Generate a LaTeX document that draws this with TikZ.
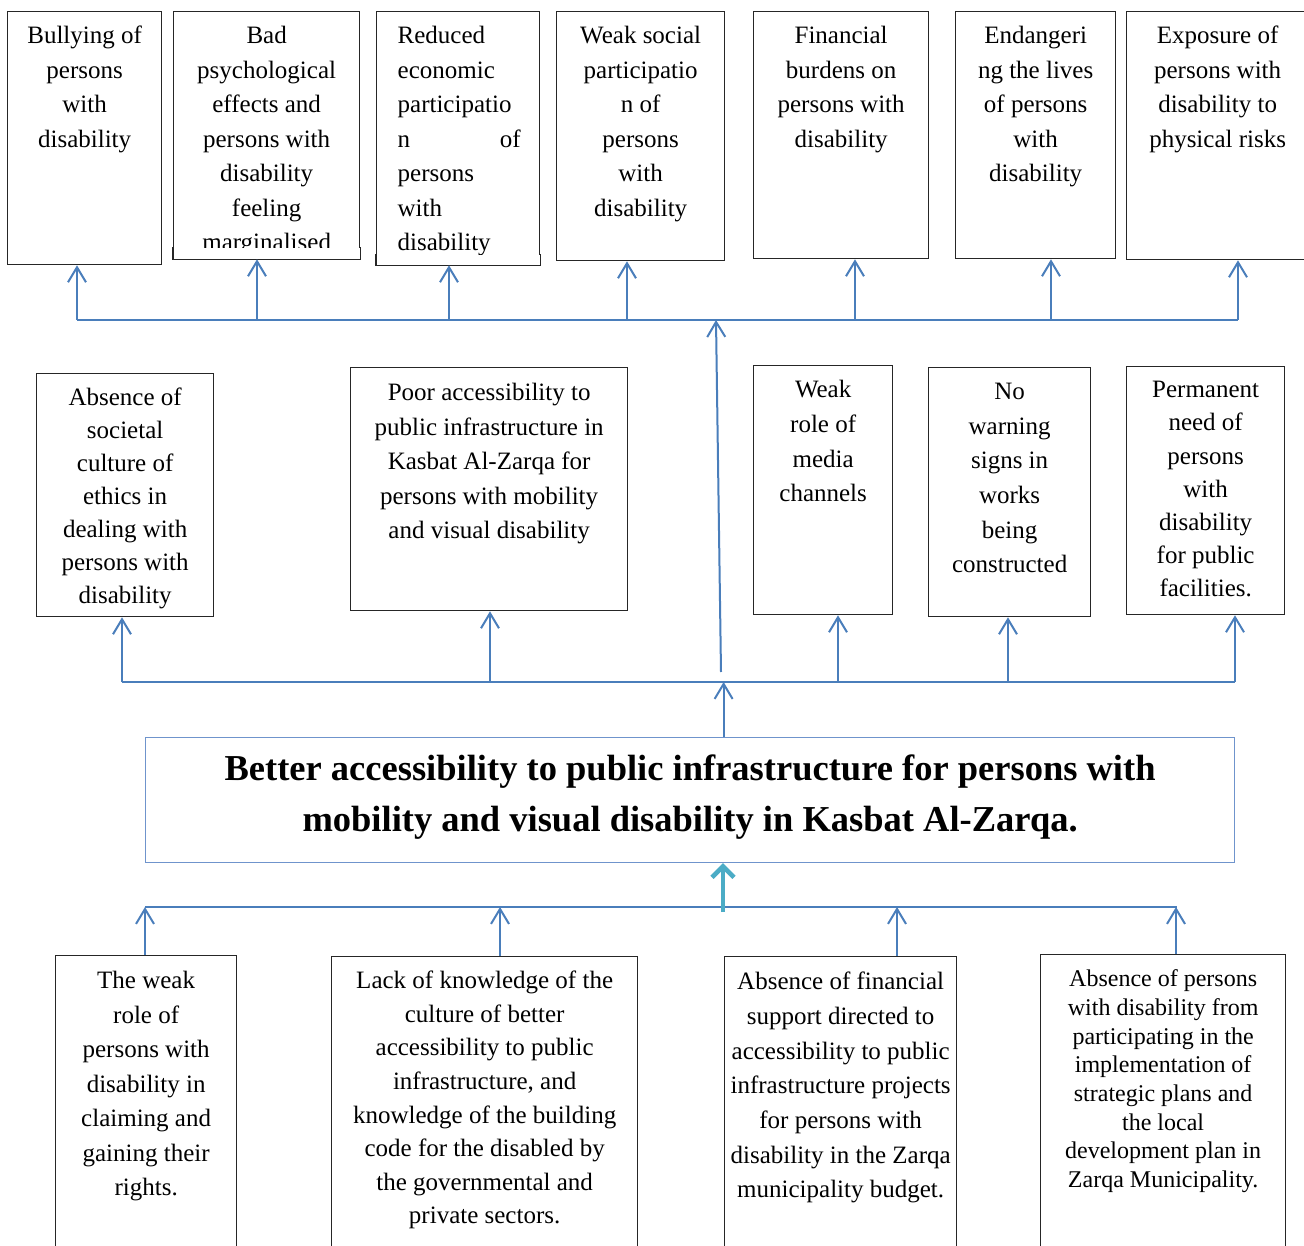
\documentclass[tikz,border=0pt]{standalone}
\usepackage{fontspec}
\setmainfont{Liberation Serif}
\usetikzlibrary{arrows.meta}
\definecolor{connc}{HTML}{4A7EBB}
\definecolor{tealc}{HTML}{4BACC6}
\definecolor{mainc}{HTML}{6F94CC}
\newcommand\bxt[6][25]{\parbox[c][#3pt][t]{#2pt}{\centering\fontsize{#1}{#5}\selectfont\rule{0pt}{#4pt}#6\par}}
\tikzset{
  box/.style={draw=black!85, line width=1.3pt, inner sep=0pt, anchor=north west},
  edge/.style={draw=black!85, line width=1.3pt},
  conn/.style={draw=connc, line width=2pt},
  arr/.style={conn, -{Straight Barb[length=15pt,width=18pt]}},
  tealarr/.style={draw=tealc, line width=4.5pt, -{Straight Barb[length=11pt,width=22pt]}},
  mainbox/.style={draw=mainc, line width=1.2pt, inner sep=0pt, anchor=north west}
}
\begin{document}
\begin{tikzpicture}[x=1pt,y=-1pt]
\useasboundingbox (0,0) rectangle (1304,1246);
\fill[white] (0,0) rectangle (1304,1246);
% ---------- top row
\node[box] (t1) at (7,11) {\bxt{154}{253}{32}{34.5}{Bullying of\\persons\\with\\disability}};
\begin{scope}
  \clip (150,0) rectangle (366,248);
  \node[box] (t2) at (173,11) {\bxt{186}{247}{32}{34.5}{Bad\\psychological\\effects and\\persons with\\disability\\feeling\\marginalised}};
\end{scope}
\draw[edge] ([yshift=12pt]t2.south west) |- (t2.south east) -- ([yshift=12pt]t2.south east);
\begin{scope}
  \clip (366,0) rectangle (548,255);
  \node[box] (t3) at (376,11) {\bxt{163}{253}{32}{34.5}{\leftskip=21pt\rightskip=19pt plus 1fil Reduced\\economic\\participatio\\n\hfill of\\persons\\with\\disability}};
\end{scope}
\draw[edge] ([yshift=11pt]t3.south west) |- (t3.south east) -- ([yshift=11pt]t3.south east);
\node[box] (t4) at (556,11) {\bxt{168}{249}{32}{34.5}{Weak social\\participatio\\n of\\persons\\with\\disability}};
\node[box] (t5) at (753,11) {\bxt{175}{247}{32}{34.5}{Financial\\burdens on\\persons with\\disability}};
\node[box] (t6) at (955,11) {\bxt{160}{247}{32}{34.5}{Endangeri\\ng the lives\\of persons\\with\\disability}};
\node[box] (t7) at (1126,11) {\bxt{182}{248}{32}{34.5}{Exposure of\\persons with\\disability to\\physical risks}};
% ---------- middle row
\node[box] (m1) at (36,373) {\bxt{177}{243}{32}{33}{Absence of\\societal\\culture of\\ethics in\\dealing with\\persons with\\disability}};
\node[box] (m2) at (350,367) {\bxt{277}{243}{33}{34.5}{Poor accessibility to\\public infrastructure in\\Kasbat Al-Zarqa for\\persons with mobility\\and visual disability}};
\node[box] (m3) at (753,365) {\bxt{139}{249}{32}{34.7}{Weak\\role of\\media\\channels}};
\node[box] (m4) at (928,367) {\bxt{162}{249}{32}{34.6}{No\\warning\\signs in\\works\\being\\constructed}};
\node[box] (m5) at (1126,366) {\bxt{158}{248}{31}{33.2}{Permanent\\need of\\persons\\with\\disability\\for public\\facilities.}};
% ---------- main box
\node[mainbox] (main) at (145,737) {\parbox[c][125pt][t]{1089pt}{\centering\fontsize{36.5}{51}\selectfont\bfseries\rule{0pt}{43pt}Better accessibility to public infrastructure for persons with\\mobility and visual disability in Kasbat Al-Zarqa.\par}};
% ---------- bottom row
\node[box] (b1) at (55,955) {\bxt{181}{300}{33}{34.5}{The weak\\role of\\persons with\\disability in\\claiming and\\gaining their\\rights.}};
\node[box] (b2) at (331,956) {\bxt{306}{300}{32}{33.6}{Lack of knowledge of the\\culture of better\\accessibility to public\\infrastructure, and\\knowledge of the building\\code for the disabled by\\the governmental and\\private sectors.}};
\node[box] (b3) at (724,956) {\bxt{232}{300}{33}{34.7}{Absence of financial\\support directed to\\accessibility to public\\infrastructure projects\\for persons with\\disability in the Zarqa\\municipality budget.}};
\node[box] (b4) at (1040,954) {\bxt[24]{245}{300}{32}{28.7}{Absence of persons\\with disability from\\participating in the\\implementation of\\strategic plans and\\the local\\development plan in\\Zarqa Municipality.}};
% ---------- top bus
\coordinate (a1) at (77,320);
\coordinate (a2) at (257,320);
\coordinate (a3) at (449,320);
\coordinate (a4) at (627,320);
\coordinate (a5) at (855,320);
\coordinate (a6) at (1051,320);
\coordinate (a7) at (1238,320);
\coordinate (atap) at (716,320);
\draw[conn] (a1) -- (a7);
\foreach \i in {1,...,7} {\draw[arr] (a\i) -- (a\i |- t\i.south);}
% ---------- middle bus
\coordinate (c1) at (122,682);
\coordinate (c2) at (490,682);
\coordinate (c3) at (838,682);
\coordinate (c4) at (1008,682);
\coordinate (c5) at (1235,682);
\draw[conn] (c1) -- (c5);
\foreach \i in {1,...,5} {\draw[arr] (c\i) -- (c\i |- m\i.south);}
\coordinate (mt) at ([xshift=33.5pt]main.north);
\draw[arr] (mt) -- (mt |- c1);
\coordinate (ctap) at (721,672);
\draw[arr] (ctap) -- (atap);
% ---------- bottom bus
\coordinate (d1) at (145,907);
\coordinate (d2) at (500,907);
\coordinate (d3) at (897,907);
\coordinate (d4) at (1176,907);
\draw[conn] (d1) -- ([xshift=1pt]d4);
\foreach \i in {1,...,4} {\draw[arr] (d\i |- b\i.north) -- (d\i);}
\coordinate (bt) at (723,912);
\draw[tealarr] (bt) -- (bt |- main.south);
\end{tikzpicture}
\end{document}
